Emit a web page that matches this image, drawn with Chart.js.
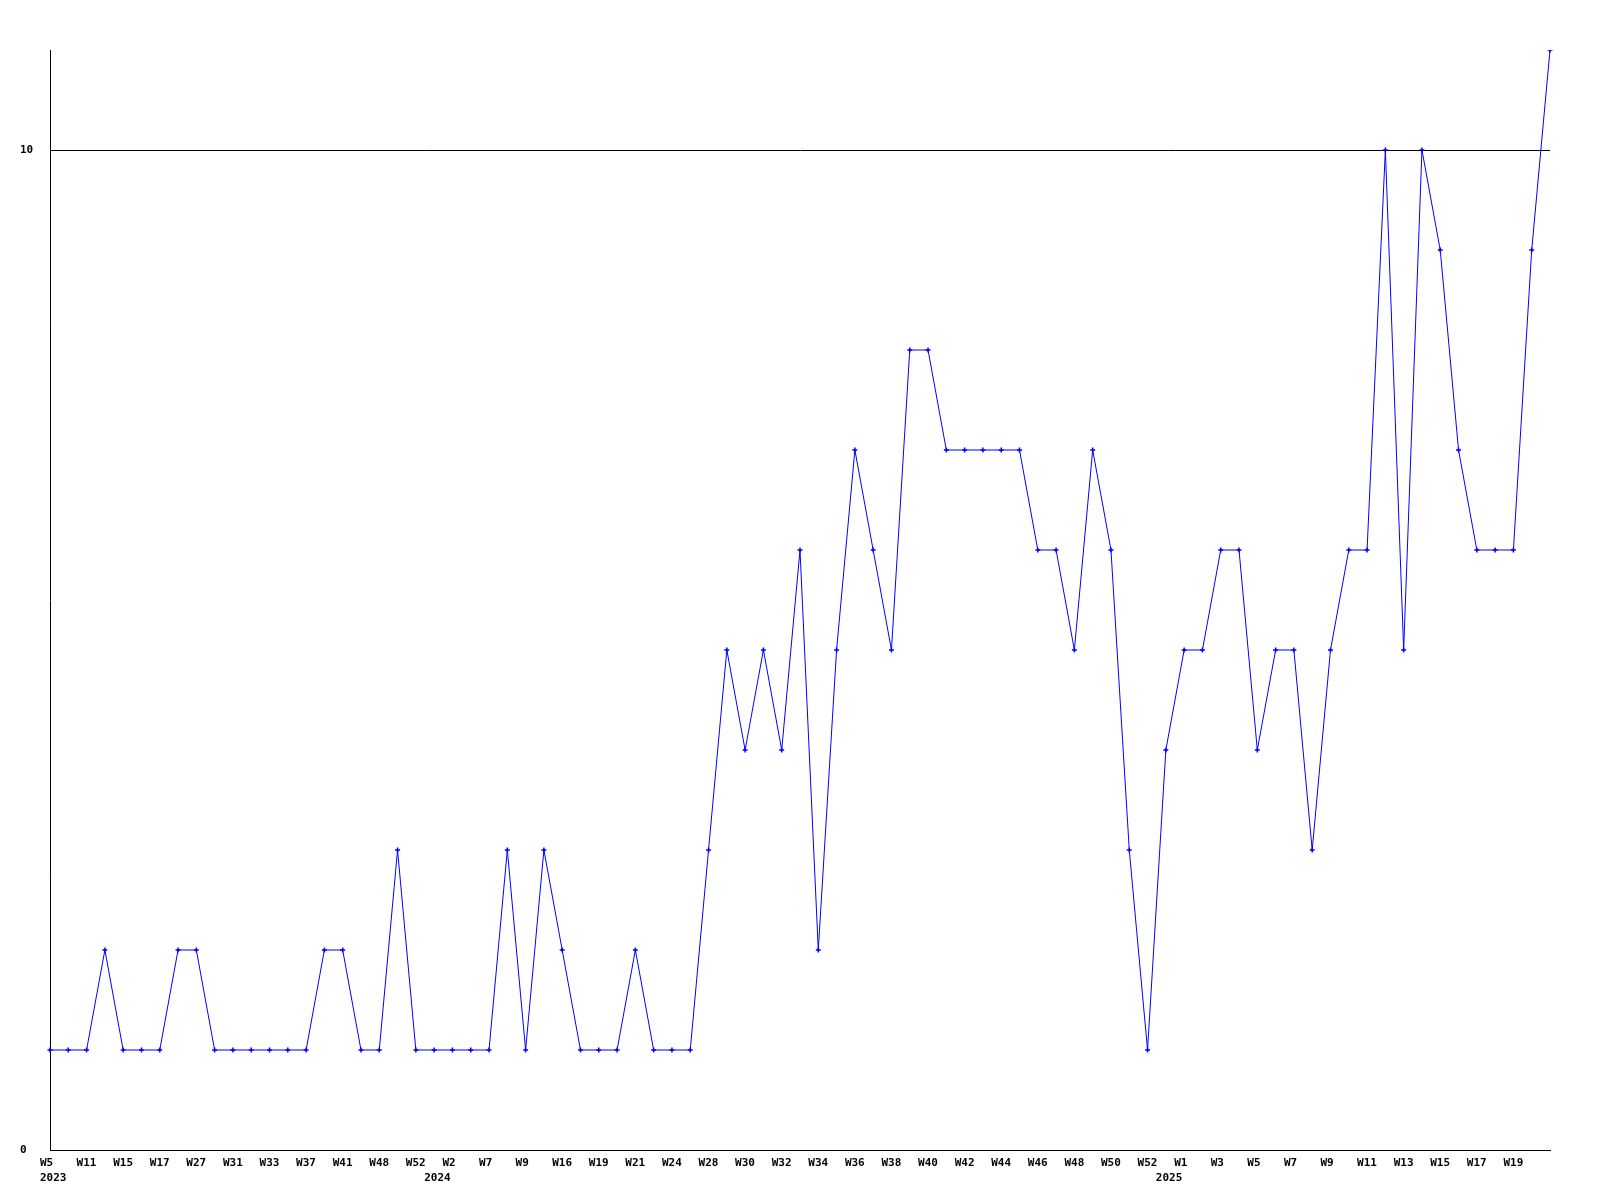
<!DOCTYPE html>
<html>
<head>
<meta charset="utf-8">
<script src="https://cdn.jsdelivr.net/npm/chart.js@4.4.0/dist/chart.umd.min.js"></script>
<style>
  body { margin: 0; background: #ffffff; }
  #wrap { width: 1600px; height: 1200px; }
</style>
</head>
<body>
<div id="wrap"><canvas id="chart" width="1600" height="1200"></canvas></div>
<script>
// weekly counts, one point per week that had data
const weeks = [
  "W5", "W9", "W11", "W13", "W15", "W16", "W17", "W21", "W27", "W29",
  "W31", "W32", "W33", "W35", "W37", "W39", "W41", "W44", "W48", "W50",
  "W52", "W1", "W2", "W5", "W7", "W8", "W9", "W12", "W16", "W17",
  "W19", "W20", "W21", "W22", "W24", "W26", "W28", "W29", "W30", "W31",
  "W32", "W33", "W34", "W35", "W36", "W37", "W38", "W39", "W40", "W41",
  "W42", "W43", "W44", "W45", "W46", "W47", "W48", "W49", "W50", "W51",
  "W52", "W1", "W1", "W2", "W3", "W4", "W5", "W6", "W7", "W8",
  "W9", "W10", "W11", "W12", "W13", "W14", "W15", "W16", "W17", "W18",
  "W19", "W20", "W21"
];
const counts = [
  1, 1, 1, 2, 1, 1, 1, 2, 2, 1,
  1, 1, 1, 1, 1, 2, 2, 1, 1, 3,
  1, 1, 1, 1, 1, 3, 1, 3, 2, 1,
  1, 1, 2, 1, 1, 1, 3, 5, 4, 5,
  4, 6, 2, 5, 7, 6, 5, 8, 8, 7,
  7, 7, 7, 7, 6, 6, 5, 7, 6, 3,
  1, 4, 5, 5, 6, 6, 4, 5, 5, 3,
  5, 6, 6, 10, 5, 10, 9, 7, 6, 6,
  6, 9, 11
];
const yearStarts = [0, 21, 61];
const yearNames = ["2023", "2024", "2025"];
const yTicks = [0, 10];

const labelFont = { family: "'DejaVu Sans Mono', monospace", size: 11, weight: "bold", lineHeight: 1.35 };

new Chart(document.getElementById("chart"), {
  type: "line",
  data: {
    labels: weeks,
    datasets: [{
      data: counts,
      borderColor: "#0000ff",
      backgroundColor: "#0000ff",
      borderWidth: 1,
      tension: 0,
      pointStyle: "cross",
      pointRadius: 2.5,
      pointBorderWidth: 1.5,
      pointHoverRadius: 2.5,
    }],
  },
  options: {
    responsive: false,
    animation: false,
    devicePixelRatio: 1,
    layout: { padding: { left: 20, top: 50, right: 50, bottom: 0 } },
    plugins: { legend: { display: false }, tooltip: { enabled: false } },
    scales: {
      x: {
        grid: { display: false, drawTicks: false },
        border: { color: "#000000", width: 1 },
        ticks: {
          autoSkip: false,
          maxRotation: 0,
          minRotation: 0,
          align: "start",
          labelOffset: -10,
          padding: 6,
          color: "#000000",
          font: labelFont,
          callback: (value, index) => {
            // every other week is labelled, year goes under the first week of that year
            const wk = (index % 2 === 0 && index < weeks.length - 1) ? weeks[index] : "";
            const y = yearStarts.indexOf(index);
            return y >= 0 ? [wk, yearNames[y]] : wk;
          },
        },
        afterFit: (scale) => { scale.height = 50; },
      },
      y: {
        min: 0,
        max: 11,
        grid: { color: "#000000", lineWidth: 1, drawTicks: false },
        border: { color: "#000000", width: 1 },
        ticks: {
          crossAlign: "far",
          color: "#000000",
          font: { family: "'DejaVu Sans Mono', monospace", size: 11, weight: "bold" },
        },
        afterBuildTicks: (scale) => { scale.ticks = yTicks.map(v => ({ value: v })); },
        afterFit: (scale) => { scale.width = 30; },
      },
    },
  },
});
</script>
</body>
</html>
